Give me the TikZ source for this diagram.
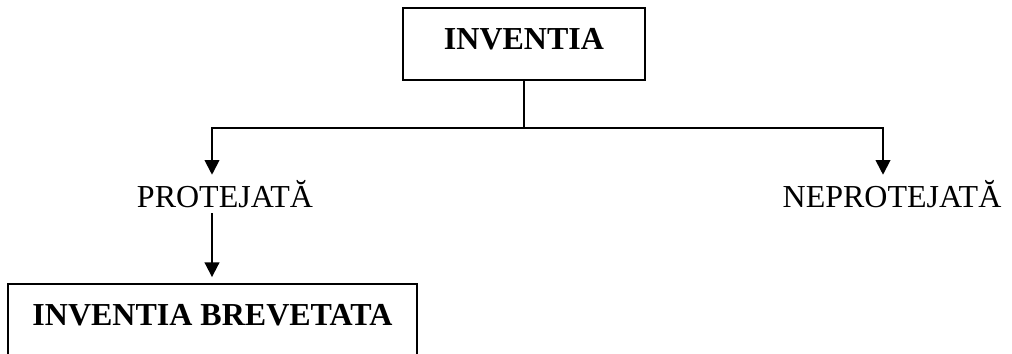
\documentclass[tikz,border=0pt]{standalone}
\usepackage{fontspec}
\setmainfont{Liberation Serif}
\usetikzlibrary{arrows.meta}
\tikzset{>={Triangle[length=11pt,width=11pt]}}
\tikzstyle{treeline}=[line width=1.4pt]
\tikzstyle{titlebox}=[draw,line width=1.4pt,inner sep=0pt,minimum height=54pt,text height=15.9pt,text depth=7.5pt,font=\fontsize{24}{28}\selectfont\bfseries]
\tikzstyle{branch}=[inner xsep=0pt,inner ysep=4.5pt,text height=19.5pt,text depth=0pt,font=\fontsize{24}{28}\selectfont]

\begin{document}
\begin{tikzpicture}[x=0.75pt,y=-0.75pt]
    \useasboundingbox (0,0) rectangle (1012,353);
    \clip (0,0) rectangle (1012,353);

    \node[titlebox,minimum width=181.5pt] (inventia) at (524,44) {INVENTIA};

    \coordinate (left) at (212,128);
    \coordinate (right) at (883,128);
    \node[branch,anchor=base] (protejata) at (225,207) {PROTEJATĂ};
    \node[branch,anchor=base] (neprotejata) at (892,207) {NEPROTEJATĂ};

    % the box below runs past the lower edge
    \node[titlebox,minimum width=306.75pt] (brevetata) at (212.5,320) {INVENTIA BREVETATA};

    \draw[treeline] (inventia.south) -- (inventia.south |- left);
    \draw[treeline,<->] (left |- protejata.north) -- (left) -- (right) -- (right |- neprotejata.north);
    \draw[treeline,->,shorten >=4.5pt] (protejata.south -| left) -- (left |- brevetata.north);
\end{tikzpicture}
\end{document}
